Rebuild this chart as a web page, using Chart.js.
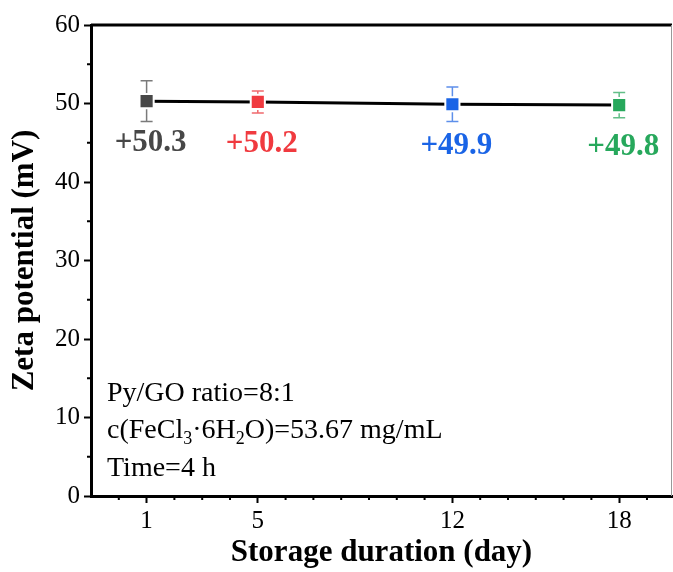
<!DOCTYPE html>
<html>
  <head>
    <title>Zeta potential</title>
    <script src="https://cdn.jsdelivr.net/npm/chart.js"></script>
    <style>
      html, body { margin: 0; padding: 0; background: #fff; overflow: hidden; }
      canvas { display: block; }
    </style>
  </head>

  <body>
    <canvas id="zeta" width="673" height="572"></canvas>

    <script>
      // data
      var dias = [1, 5, 12, 18];
      var zeta = [50.3, 50.2, 49.9, 49.8];
      var erros = [2.6, 1.4, 2.2, 1.6];
      var rotulos = ["+50.3", "+50.2", "+49.9", "+49.8"];
      var xTicks = [1, 5, 12, 18];
      var cores = ["#474747", "#f03a3f", "#1a64e6", "#27a85c"];
      var coresErro = ["#7a7a7a", "#f06a6d", "#5d8fea", "#63bf88"];

      var fonte = "'Liberation Serif', 'Times New Roman', serif";

      var extras = {
        id: "extras",
        beforeDatasetsDraw(chart) {
          var ctx = chart.ctx;
          var x = chart.scales.x, y = chart.scales.y;
          ctx.save();
          // error bars
          dias.forEach((d, i) => {
            var px = x.getPixelForValue(d);
            var top = y.getPixelForValue(zeta[i] + erros[i]);
            var bot = y.getPixelForValue(zeta[i] - erros[i]);
            ctx.strokeStyle = coresErro[i];
            ctx.lineWidth = 1.5;
            ctx.beginPath();
            ctx.moveTo(px, top); ctx.lineTo(px, bot);
            ctx.moveTo(px - 6, top); ctx.lineTo(px + 6, top);
            ctx.moveTo(px - 6, bot); ctx.lineTo(px + 6, bot);
            ctx.stroke();
          });
          ctx.restore();
        },
        afterDraw(chart) {
          var ctx = chart.ctx;
          var a = chart.chartArea;
          var x = chart.scales.x, y = chart.scales.y;
          ctx.save();
          // frame: top and right
          ctx.strokeStyle = "#000";
          ctx.lineWidth = 3;
          ctx.beginPath();
          ctx.moveTo(a.left, a.top); ctx.lineTo(a.right, a.top);
          ctx.stroke();
          ctx.strokeStyle = "#999";
          ctx.lineWidth = 1;
          ctx.beginPath();
          ctx.moveTo(a.right - 0.5, a.top); ctx.lineTo(a.right - 0.5, a.bottom);
          ctx.stroke();

          // minor ticks
          ctx.strokeStyle = "#000";
          ctx.lineWidth = 2;
          ctx.beginPath();
          for (var v = 5; v < 60; v += 10) {
            var py = y.getPixelForValue(v);
            ctx.moveTo(a.left - 4, py); ctx.lineTo(a.left, py);
          }
          for (var d = 0; d <= 19; d++) {
            if (xTicks.indexOf(d) >= 0) continue;
            var px = x.getPixelForValue(d);
            ctx.moveTo(px, a.bottom); ctx.lineTo(px, a.bottom + 4);
          }
          ctx.stroke();

          // value labels
          ctx.font = "bold 31px " + fonte;
          ctx.textAlign = "center";
          ctx.textBaseline = "middle";
          dias.forEach((d, i) => {
            ctx.fillStyle = cores[i];
            ctx.fillText(rotulos[i], x.getPixelForValue(d) + 4, y.getPixelForValue(zeta[i]) + 42);
          });

          // condition text
          ctx.fillStyle = "#000";
          ctx.textAlign = "left";
          ctx.textBaseline = "alphabetic";
          var tx = a.left + 16;
          ctx.font = "28px " + fonte;
          ctx.fillText("Py/GO ratio=8:1", tx, 401);
          var partes = [["c(FeCl", 0], ["3", 1], ["\u00b76H", 0], ["2", 1], ["O)=53.67 mg/mL", 0]];
          var cx = tx;
          partes.forEach((p) => {
            ctx.font = (p[1] ? "18px " : "28px ") + fonte;
            ctx.fillText(p[0], cx, 438 + (p[1] ? 6 : 0));
            cx += ctx.measureText(p[0]).width;
          });
          ctx.font = "28px " + fonte;
          ctx.fillText("Time=4 h", tx, 476);
          ctx.restore();
        },
      };

      var grafico = new Chart(document.getElementById("zeta").getContext("2d"), {
        type: "line",
        data: {
          datasets: [
            {
              data: dias.map((d, i) => ({ x: d, y: zeta[i] })),
              borderColor: "#000",
              borderWidth: 3,
              pointStyle: "rect",
              pointRadius: 10,
              pointHoverRadius: 10,
              pointBackgroundColor: cores,
              pointBorderColor: "#fff",
              pointBorderWidth: 2,
              tension: 0,
            },
          ],
        },
        options: {
          responsive: false,
          animation: false,
          events: [],
          layout: { autoPadding: false, padding: { top: 25, right: 1, left: 0, bottom: 0 } },
          plugins: { legend: { display: false }, tooltip: { enabled: false } },
          scales: {
            x: {
              type: "linear",
              min: -1,
              max: 19.9,
              afterBuildTicks: (s) => { s.ticks = xTicks.map((v) => ({ value: v })); },
              afterFit: (s) => { s.height = 76; s.paddingLeft = 0; s.paddingRight = 0; },
              grid: { drawOnChartArea: false, tickLength: 7, tickWidth: 2, tickColor: "#000" },
              border: { display: true, width: 3, color: "#000" },
              ticks: { color: "#000", font: { family: fonte, size: 25 }, padding: 3, maxRotation: 0 },
              title: {
                display: true,
                text: "Storage duration (day)",
                color: "#000",
                font: { family: fonte, size: 31, weight: "bold" },
                padding: { top: 0, bottom: 0 },
              },
            },
            y: {
              min: 0,
              max: 60,
              ticks: { stepSize: 10, color: "#000", font: { family: fonte, size: 25 }, padding: 4 },
              afterFit: (s) => { s.width = 91; s.paddingTop = 0; s.paddingBottom = 0; },
              grid: { drawOnChartArea: false, tickLength: 7, tickWidth: 2, tickColor: "#000" },
              border: { display: true, width: 3, color: "#000" },
              title: {
                display: true,
                text: "Zeta potential (mV)",
                color: "#000",
                font: { family: fonte, size: 31, weight: "bold" },
                padding: { top: 6, bottom: 0 },
              },
            },
          },
        },
        plugins: [extras],
      });
    </script>
  </body>
</html>
